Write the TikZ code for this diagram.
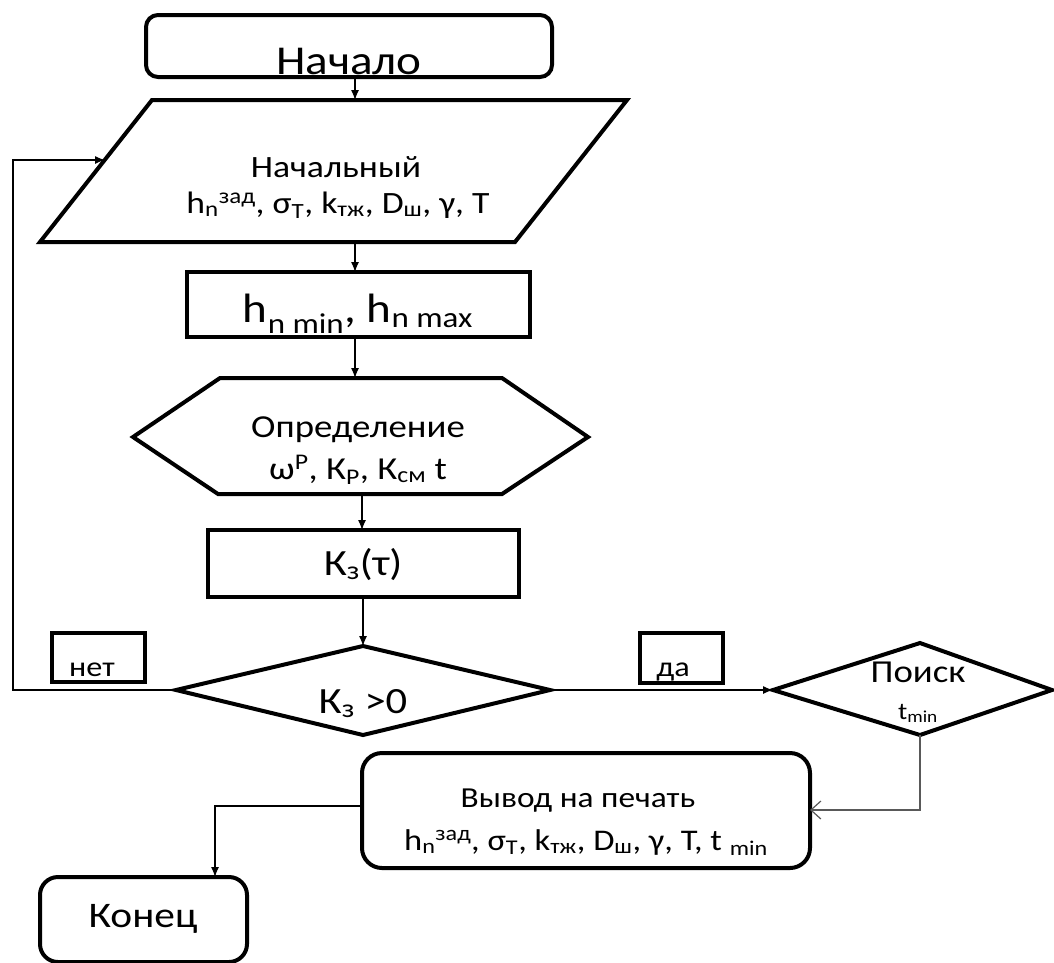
\documentclass[tikz,border=0pt]{standalone}
\usepackage{fontspec}
\setmainfont{Carlito}[FakeStretch=1.15]
\usetikzlibrary{arrows.meta}
\tikzset{
	blk/.style={line width=4pt, line join=miter},
	arr/.style={line width=1.2pt, -{Latex[length=10pt,width=8pt]}},
	txt/.style={anchor=base, inner sep=0pt, align=center},
	fs/.style={font=\fontsize{#1}{#1}\selectfont}
}
\newcommand{\lo}[1]{\textsubscript{#1}}
\newcommand{\hi}[1]{\textsuperscript{#1}}
\begin{document}
\begin{tikzpicture}[x=1pt,y=-1pt]
	\useasboundingbox (0,0) rectangle (1054,962);
	% shapes
	\draw[blk, rounded corners=12pt] (146,15) rectangle (552,77);
	\draw[blk] (152,100) -- (627,100) -- (515,242) -- (40,242) -- cycle;
	\draw[blk] (187,272) rectangle (530,337);
	\draw[blk] (133,437) -- (220,378) -- (502,378) -- (588,437) -- (502,494) -- (218,494) -- cycle;
	\draw[blk] (208,530) rectangle (519,597);
	\draw[blk] (176,690) -- (363,646) -- (550,690) -- (363,735) -- cycle;
	\draw[blk] (52,633) rectangle (145,682);
	\draw[blk] (640,633) rectangle (723,683);
	\draw[blk] (773,690) -- (920,643) -- (1052,690) -- (920,735) -- cycle;
	\draw[blk, rounded corners=20pt] (362,753) rectangle (810,868);
	\draw[blk, rounded corners=18pt] (40,877) rectangle (247,962);
	% texts
	\node[txt, fs=41] (start) at (349,74) {Начало};
	\node[txt, fs=31] (input) at (336,177) {Начальный};
	\node[txt, fs=31] (inputvar) at (338,213) {h\lo{n}\hi{зад}, σ\lo{Т}, k\lo{тж}, D\lo{ш}, γ, T};
	\node[txt, fs=41] (range) at (358,322) {h\lo{n min}, h\lo{n max}};
	\node[txt, fs=32] (calc) at (358,437) {Определение};
	\node[txt, fs=32] (calcvar) at (358,479) {ω\hi{Р}, К\lo{Р}, К\lo{см} t};
	\node[txt, fs=37] (kz) at (363,575) {К\lo{з}(τ)};
	\node[txt, fs=37] (cond) at (363,713) {К\lo{з} >0};
	\node[txt, fs=28] (no) at (92,676) {нет};
	\node[txt, fs=28] (yes) at (673,676) {да};
	\node[txt, fs=32] (search) at (918,682) {Поиск};
	\node[txt, fs=24] (tmin) at (918,719) {t\lo{min}};
	\node[txt, fs=29] (print) at (578,807) {Вывод на печать};
	\node[txt, fs=30] (printvar) at (586,850) {h\lo{n}\hi{зад}, σ\lo{Т}, k\lo{тж}, D\lo{ш}, γ, T, t \lo{min}};
	\node[txt, fs=36] (stop) at (143,927) {Конец};
	% connector ends
	\coordinate (startS) at (355,77);
	\coordinate (inputN) at (355,100);
	\coordinate (inputS) at (355,242);
	\coordinate (inputW) at (105,160);
	\coordinate (rangeN) at (355,272);
	\coordinate (rangeS) at (355,337);
	\coordinate (calcN) at (355,378);
	\coordinate (calcS) at (362,494);
	\coordinate (kzN) at (362,530);
	\coordinate (kzS) at (363,597);
	\coordinate (condN) at (363,646);
	\coordinate (condW) at (176,690);
	\coordinate (condE) at (550,690);
	\coordinate (searchW) at (773,690);
	\coordinate (searchS) at (920,735);
	\coordinate (printE) at (810,810);
	\coordinate (printW) at (362,806);
	\coordinate (stopN) at (215,877);
	% connectors
	\draw[arr] (startS) -- (inputN);
	\draw[arr] (inputS) -- (rangeN);
	\draw[arr] (rangeS) -- (calcN);
	\draw[arr] (calcS) -- (kzN);
	\draw[arr] (kzS) -- (condN);
	\draw[arr] (condW) -- (13,690) -- (13,160) -- (inputW);
	\draw[arr] (condE) -- (searchW);
	\draw[line width=1.2pt, black!65, -{Straight Barb[length=10pt,width=18pt]}] (searchS) |- (printE);
	\draw[arr] (printW) -| (stopN);
\end{tikzpicture}
\end{document}
